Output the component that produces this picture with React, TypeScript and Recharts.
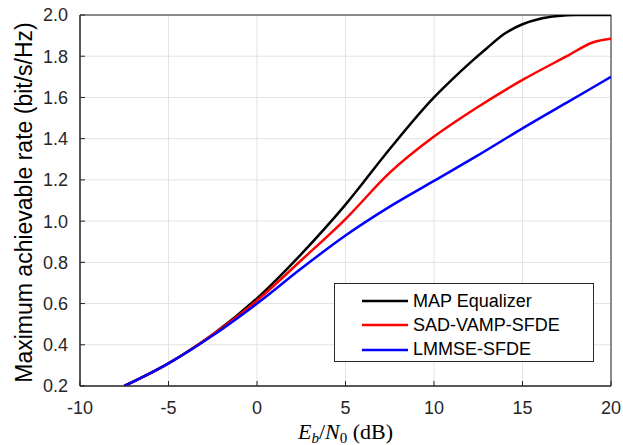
import React from 'react';
import {
  LineChart,
  Line,
  XAxis,
  YAxis,
  CartesianGrid,
  Legend,
  ReferenceArea,
} from 'recharts';

document.body.style.margin = '0';

const xTicks = [-10, -5, 0, 5, 10, 15, 20];
const yTicks = [0.2, 0.4, 0.6, 0.8, 1.0, 1.2, 1.4, 1.6, 1.8, 2.0];

const mapSnr = [-7.5, -5, -2.5, 0, 2.5, 5, 7.5, 10, 11, 12, 13, 14, 15, 16, 17, 18, 19, 20];
const mapRate = [0.2, 0.31, 0.45, 0.625, 0.84, 1.08, 1.35, 1.6, 1.685, 1.765, 1.84, 1.91, 1.955, 1.982, 1.995, 2.0, 2.0, 2.0];

const sadSnr = [-7.5, -5, -2.5, 0, 2.5, 5, 7.5, 10, 12.5, 15, 17.5, 19, 20];
const sadRate = [0.2, 0.31, 0.45, 0.615, 0.81, 1.01, 1.235, 1.41, 1.555, 1.685, 1.8, 1.868, 1.885];

const lmmseSnr = [-7.5, -5, -2.5, 0, 2.5, 5, 7.5, 10, 12.5, 15, 17.5, 20];
const lmmseRate = [0.2, 0.31, 0.445, 0.6, 0.77, 0.93, 1.07, 1.195, 1.32, 1.45, 1.575, 1.7];

const series = [
  { name: 'MAP Equalizer', color: '#000000', snr: mapSnr, rate: mapRate },
  { name: 'SAD-VAMP-SFDE', color: '#ff0000', snr: sadSnr, rate: sadRate },
  { name: 'LMMSE-SFDE', color: '#0000ff', snr: lmmseSnr, rate: lmmseRate },
];

const axisColor = '#262626';
const font = '"Liberation Sans", Arial, Helvetica, sans-serif';

const LegendBox = () => (
  <div
    style={{
      width: 260,
      height: 79,
      boxSizing: 'border-box',
      border: `1px solid ${axisColor}`,
      background: '#fff',
      paddingTop: 5,
      fontFamily: font,
      fontSize: 18,
      color: '#000',
    }}
  >
    {series.map((s) => (
      <div key={s.name} style={{ display: 'flex', alignItems: 'center', height: 24.3 }}>
        <svg width={78} height={10} style={{ flex: 'none' }}>
          <line x1={27} y1={5} x2={73} y2={5} stroke={s.color} strokeWidth={2.5} />
        </svg>
        <span>{s.name}</span>
      </div>
    ))}
  </div>
);

const XLabel = (props: any) => {
  const vb = props.viewBox;
  const cx = vb.x + vb.width / 2;
  return (
    <text
      x={cx}
      y={439}
      textAnchor="middle"
      fill="#000"
      style={{ fontFamily: '"Liberation Serif", "Times New Roman", serif', fontSize: 22 }}
    >
      <tspan fontStyle="italic">E</tspan>
      <tspan fontStyle="italic" fontSize={15} dy={4}>b</tspan>
      <tspan dy={-4}>/</tspan>
      <tspan fontStyle="italic">N</tspan>
      <tspan fontSize={15} dy={4}>0</tspan>
      <tspan dy={-4}> (dB)</tspan>
    </text>
  );
};

const YLabel = () => (
  <text
    x={32}
    y={202.5}
    transform="rotate(-90, 32, 202.5)"
    textAnchor="middle"
    fill="#000"
    style={{ fontFamily: font, fontSize: 23 }}
  >
    Maximum achievable rate (bit/s/Hz)
  </text>
);

export default function App() {
  return (
    <div style={{ width: 623, height: 445, background: '#fff', position: 'relative' }}>
      <LineChart width={623} height={445} margin={{ top: 15, right: 12, bottom: 0, left: 0 }}>
        <CartesianGrid stroke="#e3e3e3" strokeWidth={1} />
        <XAxis
          type="number"
          dataKey="x"
          domain={[-10, 20]}
          ticks={xTicks}
          allowDataOverflow
          height={59}
          stroke={axisColor}
          tickSize={-5}
          tickMargin={20}
          tick={{ fill: axisColor, fontFamily: font, fontSize: 18 }}
          label={<XLabel />}
        />
        <XAxis
          xAxisId="top"
          orientation="top"
          type="number"
          domain={[-10, 20]}
          ticks={xTicks}
          height={0}
          stroke={axisColor}
          tickSize={-5}
          tick={false}
        />
        <YAxis
          type="number"
          domain={[0.2, 2.0]}
          ticks={yTicks}
          allowDataOverflow
          width={80}
          stroke={axisColor}
          tickSize={-5}
          tickMargin={17}
          tickFormatter={(v: number) => v.toFixed(1)}
          tick={{ fill: axisColor, fontFamily: font, fontSize: 18 }}
          label={<YLabel />}
        />
        <YAxis
          yAxisId="right"
          orientation="right"
          type="number"
          domain={[0.2, 2.0]}
          ticks={yTicks}
          width={0}
          stroke={axisColor}
          tickSize={-5}
          tick={false}
        />
        <ReferenceArea x1={-10} x2={20} y1={0.2} y2={2.0} fill="none" stroke={axisColor} strokeWidth={1} />
        {series.map((s) => (
          <Line
            key={s.name}
            name={s.name}
            data={s.snr.map((x, i) => ({ x, y: s.rate[i] }))}
            dataKey="y"
            type="monotone"
            stroke={s.color}
            strokeWidth={2.5}
            dot={false}
            isAnimationActive={false}
          />
        ))}
        <Legend
          layout="horizontal"
          verticalAlign="middle"
          align="center"
          content={() => <LegendBox />}
          wrapperStyle={{ left: 334, top: 283, width: 260, height: 79 }}
        />
      </LineChart>
    </div>
  );
}
